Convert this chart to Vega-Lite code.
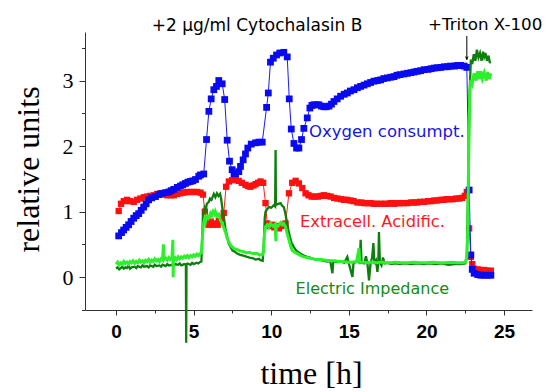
{
  "$schema": "https://vega.github.io/schema/vega-lite/v6.json",
  "autosize": "none",
  "width": 447,
  "height": 278,
  "padding": {"left": 85, "top": 32, "right": 22, "bottom": 82},
  "background": "white",
  "config": {"view": {"stroke": null}},
  "datasets": {
    "blue": [
      {"t":0.17,"v":0.63},{"t":0.35,"v":0.68},{"t":0.49,"v":0.72},{"t":0.65,"v":0.76},{"t":0.81,"v":0.8},{"t":0.97,"v":0.85},{"t":1.14,"v":0.9},{"t":1.3,"v":0.94},{"t":1.46,"v":0.97},{"t":1.62,"v":1.02},{"t":1.78,"v":1.07},{"t":1.94,"v":1.12},{"t":2.1,"v":1.18},{"t":2.3,"v":1.21},{"t":2.54,"v":1.23},{"t":2.75,"v":1.26},{"t":2.97,"v":1.28},{"t":3.2,"v":1.29},{"t":3.4,"v":1.3},{"t":3.55,"v":1.32},{"t":3.72,"v":1.34},{"t":3.95,"v":1.37},{"t":4.15,"v":1.39},{"t":4.3,"v":1.41},{"t":4.47,"v":1.43},{"t":4.63,"v":1.45},{"t":4.79,"v":1.46},{"t":4.95,"v":1.47},{"t":5.12,"v":1.49},{"t":5.33,"v":1.54},{"t":5.44,"v":1.56},{"t":5.65,"v":1.575},{"t":5.83,"v":2.1},{"t":5.98,"v":2.53},{"t":6.13,"v":2.72},{"t":6.3,"v":2.86},{"t":6.47,"v":2.91},{"t":6.62,"v":3.0},{"t":6.84,"v":2.95},{"t":7.0,"v":2.71},{"t":7.16,"v":2.09},{"t":7.31,"v":1.77},{"t":7.48,"v":1.64},{"t":7.6,"v":1.58},{"t":7.7,"v":1.575},{"t":7.91,"v":1.61},{"t":8.02,"v":1.69},{"t":8.19,"v":1.79},{"t":8.34,"v":1.88},{"t":8.49,"v":1.97},{"t":8.71,"v":2.03},{"t":8.99,"v":2.05},{"t":9.2,"v":2.06},{"t":9.42,"v":2.06},{"t":9.7,"v":2.59},{"t":9.81,"v":2.81},{"t":9.95,"v":3.28},{"t":10.13,"v":3.34},{"t":10.34,"v":3.39},{"t":10.55,"v":3.42},{"t":10.81,"v":3.43},{"t":11.03,"v":3.36},{"t":11.16,"v":2.72},{"t":11.29,"v":2.26},{"t":11.46,"v":2.04},{"t":11.63,"v":1.97},{"t":11.78,"v":1.97},{"t":11.95,"v":2.1},{"t":12.1,"v":2.27},{"t":12.32,"v":2.43},{"t":12.49,"v":2.58},{"t":12.62,"v":2.62},{"t":12.75,"v":2.63},{"t":12.9,"v":2.63},{"t":13.07,"v":2.63},{"t":13.23,"v":2.61},{"t":13.39,"v":2.6},{"t":13.55,"v":2.6},{"t":13.72,"v":2.61},{"t":13.88,"v":2.64},{"t":14.04,"v":2.68},{"t":14.25,"v":2.72},{"t":14.47,"v":2.76},{"t":14.7,"v":2.79},{"t":14.9,"v":2.81},{"t":15.1,"v":2.84},{"t":15.33,"v":2.86},{"t":15.55,"v":2.89},{"t":15.76,"v":2.91},{"t":15.98,"v":2.93},{"t":16.19,"v":2.95},{"t":16.4,"v":2.97},{"t":16.62,"v":2.99},{"t":16.85,"v":3.0},{"t":17.05,"v":3.01},{"t":17.25,"v":3.03},{"t":17.48,"v":3.04},{"t":17.7,"v":3.05},{"t":17.91,"v":3.06},{"t":18.1,"v":3.08},{"t":18.3,"v":3.09},{"t":18.55,"v":3.1},{"t":18.77,"v":3.11},{"t":19.0,"v":3.12},{"t":19.2,"v":3.13},{"t":19.4,"v":3.14},{"t":19.62,"v":3.15},{"t":19.85,"v":3.165},{"t":20.1,"v":3.17},{"t":20.3,"v":3.18},{"t":20.5,"v":3.19},{"t":20.7,"v":3.195},{"t":20.92,"v":3.2},{"t":21.15,"v":3.21},{"t":21.35,"v":3.21},{"t":21.55,"v":3.22},{"t":21.8,"v":3.22},{"t":22.0,"v":3.23},{"t":22.2,"v":3.23},{"t":22.43,"v":3.22},{"t":22.6,"v":3.2},{"t":22.75,"v":1.33},{"t":22.86,"v":0.34},{"t":22.95,"v":0.12},{"t":23.07,"v":0.06},{"t":23.3,"v":0.04},{"t":23.5,"v":0.03},{"t":23.72,"v":0.03},{"t":23.95,"v":0.03},{"t":24.15,"v":0.03}
    ],
    "red": [
      {"t":0.17,"v":1.01},{"t":0.32,"v":1.12},{"t":0.5,"v":1.16},{"t":0.71,"v":1.18},{"t":0.9,"v":1.16},{"t":1.14,"v":1.15},{"t":1.35,"v":1.18},{"t":1.57,"v":1.2},{"t":1.8,"v":1.22},{"t":2.0,"v":1.23},{"t":2.2,"v":1.24},{"t":2.43,"v":1.25},{"t":2.65,"v":1.27},{"t":2.86,"v":1.28},{"t":3.07,"v":1.26},{"t":3.29,"v":1.25},{"t":3.5,"v":1.25},{"t":3.72,"v":1.25},{"t":3.93,"v":1.27},{"t":4.15,"v":1.28},{"t":4.36,"v":1.29},{"t":4.58,"v":1.3},{"t":4.8,"v":1.3},{"t":5.0,"v":1.3},{"t":5.22,"v":1.3},{"t":5.44,"v":1.29},{"t":5.6,"v":1.26},{"t":5.72,"v":1.0},{"t":5.8,"v":0.84},{"t":5.95,"v":0.8},{"t":6.1,"v":0.85},{"t":6.25,"v":0.8},{"t":6.4,"v":0.82},{"t":6.55,"v":0.8},{"t":6.62,"v":0.86},{"t":6.8,"v":0.9},{"t":6.94,"v":0.98},{"t":7.09,"v":1.38},{"t":7.27,"v":1.46},{"t":7.48,"v":1.48},{"t":7.7,"v":1.49},{"t":7.9,"v":1.47},{"t":8.1,"v":1.44},{"t":8.34,"v":1.41},{"t":8.5,"v":1.39},{"t":8.66,"v":1.38},{"t":8.85,"v":1.4},{"t":8.99,"v":1.42},{"t":9.15,"v":1.44},{"t":9.31,"v":1.46},{"t":9.48,"v":1.44},{"t":9.63,"v":1.13},{"t":9.74,"v":0.82},{"t":9.9,"v":0.78},{"t":10.05,"v":0.8},{"t":10.2,"v":0.76},{"t":10.35,"v":0.78},{"t":10.49,"v":0.745},{"t":10.65,"v":0.78},{"t":10.8,"v":0.8},{"t":10.92,"v":0.82},{"t":11.14,"v":1.28},{"t":11.35,"v":1.44},{"t":11.57,"v":1.47},{"t":11.78,"v":1.43},{"t":12.0,"v":1.36},{"t":12.21,"v":1.28},{"t":12.4,"v":1.25},{"t":12.6,"v":1.23},{"t":12.8,"v":1.23},{"t":13.0,"v":1.23},{"t":13.2,"v":1.24},{"t":13.39,"v":1.25},{"t":13.6,"v":1.24},{"t":13.83,"v":1.23},{"t":14.05,"v":1.21},{"t":14.26,"v":1.2},{"t":14.5,"v":1.19},{"t":14.7,"v":1.18},{"t":14.9,"v":1.18},{"t":15.1,"v":1.17},{"t":15.3,"v":1.16},{"t":15.55,"v":1.14},{"t":15.8,"v":1.14},{"t":16.0,"v":1.13},{"t":16.2,"v":1.13},{"t":16.4,"v":1.13},{"t":16.6,"v":1.12},{"t":16.8,"v":1.12},{"t":17.05,"v":1.12},{"t":17.3,"v":1.12},{"t":17.5,"v":1.12},{"t":17.7,"v":1.13},{"t":17.91,"v":1.12},{"t":18.1,"v":1.13},{"t":18.3,"v":1.13},{"t":18.5,"v":1.13},{"t":18.77,"v":1.13},{"t":19.0,"v":1.14},{"t":19.2,"v":1.14},{"t":19.4,"v":1.14},{"t":19.6,"v":1.15},{"t":19.85,"v":1.15},{"t":20.1,"v":1.16},{"t":20.3,"v":1.16},{"t":20.5,"v":1.17},{"t":20.7,"v":1.17},{"t":20.92,"v":1.18},{"t":21.1,"v":1.18},{"t":21.3,"v":1.19},{"t":21.5,"v":1.19},{"t":21.7,"v":1.19},{"t":21.9,"v":1.2},{"t":22.1,"v":1.2},{"t":22.3,"v":1.21},{"t":22.47,"v":1.24},{"t":22.6,"v":1.3},{"t":22.75,"v":0.745},{"t":22.86,"v":0.31},{"t":22.95,"v":0.2},{"t":23.07,"v":0.13},{"t":23.3,"v":0.12},{"t":23.5,"v":0.11},{"t":23.72,"v":0.11},{"t":23.9,"v":0.1},{"t":24.15,"v":0.1}
    ],
    "dg": [
      {"t":0.0,"v":0.13},{"t":0.1,"v":0.15},{"t":0.2,"v":0.12},{"t":0.3,"v":0.14},{"t":0.4,"v":0.16},{"t":0.5,"v":0.13},{"t":0.6,"v":0.15},{"t":0.7,"v":0.14},{"t":0.8,"v":0.17},{"t":0.9,"v":0.13},{"t":1.0,"v":0.15},{"t":1.2,"v":0.16},{"t":1.3,"v":0.14},{"t":1.4,"v":0.17},{"t":1.6,"v":0.15},{"t":1.7,"v":0.18},{"t":1.8,"v":0.16},{"t":2.0,"v":0.17},{"t":2.1,"v":0.15},{"t":2.2,"v":0.18},{"t":2.4,"v":0.16},{"t":2.5,"v":0.19},{"t":2.6,"v":0.17},{"t":2.8,"v":0.18},{"t":2.9,"v":0.16},{"t":3.0,"v":0.19},{"t":3.2,"v":0.17},{"t":3.3,"v":0.2},{"t":3.4,"v":0.18},{"t":3.6,"v":0.19},{"t":3.7,"v":0.17},{"t":3.8,"v":0.2},{"t":4.0,"v":0.19},{"t":4.1,"v":0.21},{"t":4.2,"v":0.18},{"t":4.4,"v":0.2},{"t":4.5,"v":0.19},{"t":4.52,"v":-1.0},{"t":4.54,"v":0.2},{"t":4.6,"v":0.21},{"t":4.8,"v":0.19},{"t":4.9,"v":0.22},{"t":5.0,"v":0.2},{"t":5.2,"v":0.22},{"t":5.3,"v":0.21},{"t":5.4,"v":0.23},{"t":5.5,"v":0.24},{"t":5.55,"v":0.6},{"t":5.6,"v":0.95},{"t":5.7,"v":1.05},{"t":5.76,"v":1.0},{"t":5.85,"v":1.12},{"t":5.98,"v":1.15},{"t":6.05,"v":1.2},{"t":6.15,"v":1.18},{"t":6.3,"v":1.27},{"t":6.4,"v":1.22},{"t":6.5,"v":1.28},{"t":6.6,"v":1.24},{"t":6.7,"v":1.27},{"t":6.77,"v":1.2},{"t":6.85,"v":1.05},{"t":6.94,"v":0.92},{"t":7.05,"v":0.74},{"t":7.16,"v":0.62},{"t":7.25,"v":0.52},{"t":7.37,"v":0.46},{"t":7.5,"v":0.41},{"t":7.65,"v":0.39},{"t":7.8,"v":0.36},{"t":8.0,"v":0.34},{"t":8.2,"v":0.33},{"t":8.45,"v":0.31},{"t":8.6,"v":0.3},{"t":8.8,"v":0.29},{"t":9.0,"v":0.27},{"t":9.2,"v":0.28},{"t":9.31,"v":0.26},{"t":9.45,"v":0.25},{"t":9.52,"v":0.5},{"t":9.58,"v":0.9},{"t":9.63,"v":1.0},{"t":9.75,"v":1.04},{"t":9.85,"v":1.07},{"t":10.0,"v":1.06},{"t":10.17,"v":1.1},{"t":10.25,"v":1.08},{"t":10.28,"v":1.94},{"t":10.3,"v":1.1},{"t":10.45,"v":1.12},{"t":10.6,"v":1.13},{"t":10.7,"v":1.09},{"t":10.81,"v":1.07},{"t":10.9,"v":0.98},{"t":10.99,"v":0.87},{"t":11.1,"v":0.72},{"t":11.2,"v":0.62},{"t":11.3,"v":0.53},{"t":11.46,"v":0.46},{"t":11.6,"v":0.41},{"t":11.75,"v":0.38},{"t":11.89,"v":0.36},{"t":12.1,"v":0.33},{"t":12.3,"v":0.31},{"t":12.5,"v":0.3},{"t":12.7,"v":0.28},{"t":12.9,"v":0.27},{"t":13.2,"v":0.26},{"t":13.4,"v":0.25},{"t":13.6,"v":0.24},{"t":13.8,"v":0.25},{"t":13.94,"v":0.06},{"t":14.0,"v":0.24},{"t":14.3,"v":0.23},{"t":14.5,"v":0.24},{"t":14.7,"v":0.22},{"t":14.9,"v":0.31},{"t":15.0,"v":0.21},{"t":15.23,"v":0.005},{"t":15.3,"v":0.22},{"t":15.5,"v":0.23},{"t":15.6,"v":0.35},{"t":15.7,"v":0.2},{"t":15.76,"v":0.57},{"t":15.82,"v":0.22},{"t":16.0,"v":0.21},{"t":16.1,"v":0.32},{"t":16.2,"v":0.2},{"t":16.3,"v":-0.05},{"t":16.4,"v":0.22},{"t":16.5,"v":0.3},{"t":16.58,"v":0.52},{"t":16.65,"v":0.2},{"t":16.75,"v":0.25},{"t":16.84,"v":0.08},{"t":16.9,"v":0.25},{"t":16.94,"v":0.69},{"t":17.0,"v":0.22},{"t":17.1,"v":0.18},{"t":17.2,"v":0.3},{"t":17.3,"v":0.21},{"t":17.5,"v":0.22},{"t":17.7,"v":0.2},{"t":18.0,"v":0.21},{"t":18.3,"v":0.2},{"t":18.6,"v":0.21},{"t":19.0,"v":0.2},{"t":19.4,"v":0.21},{"t":19.8,"v":0.2},{"t":20.2,"v":0.21},{"t":20.6,"v":0.2},{"t":21.0,"v":0.21},{"t":21.4,"v":0.19},{"t":21.8,"v":0.2},{"t":22.2,"v":0.2},{"t":22.5,"v":0.21},{"t":22.6,"v":0.3},{"t":22.7,"v":1.6},{"t":22.78,"v":2.8},{"t":22.86,"v":3.32},{"t":22.95,"v":3.25},{"t":23.05,"v":3.4},{"t":23.15,"v":3.3},{"t":23.25,"v":3.47},{"t":23.35,"v":3.35},{"t":23.45,"v":3.42},{"t":23.55,"v":3.3},{"t":23.65,"v":3.44},{"t":23.72,"v":3.36},{"t":23.8,"v":3.42},{"t":23.9,"v":3.3},{"t":24.0,"v":3.38},{"t":24.08,"v":3.28},{"t":24.15,"v":3.27}
    ],
    "lg": [
      {"t":0.0,"v":0.2},{"t":0.1,"v":0.23},{"t":0.2,"v":0.19},{"t":0.3,"v":0.22},{"t":0.4,"v":0.2},{"t":0.5,"v":0.24},{"t":0.6,"v":0.21},{"t":0.7,"v":0.23},{"t":0.8,"v":0.2},{"t":0.9,"v":0.24},{"t":1.0,"v":0.22},{"t":1.1,"v":0.25},{"t":1.2,"v":0.21},{"t":1.3,"v":0.24},{"t":1.4,"v":0.22},{"t":1.5,"v":0.26},{"t":1.6,"v":0.23},{"t":1.7,"v":0.25},{"t":1.8,"v":0.22},{"t":1.9,"v":0.26},{"t":2.0,"v":0.24},{"t":2.1,"v":0.27},{"t":2.2,"v":0.23},{"t":2.3,"v":0.26},{"t":2.4,"v":0.24},{"t":2.5,"v":0.28},{"t":2.6,"v":0.25},{"t":2.7,"v":0.27},{"t":2.8,"v":0.24},{"t":2.9,"v":0.28},{"t":3.0,"v":0.26},{"t":3.05,"v":0.5},{"t":3.09,"v":0.27},{"t":3.2,"v":0.29},{"t":3.3,"v":0.26},{"t":3.4,"v":0.3},{"t":3.5,"v":0.27},{"t":3.6,"v":0.29},{"t":3.66,"v":0.57},{"t":3.68,"v":0.0},{"t":3.7,"v":0.28},{"t":3.8,"v":0.3},{"t":3.9,"v":0.27},{"t":4.0,"v":0.31},{"t":4.1,"v":0.28},{"t":4.2,"v":0.31},{"t":4.3,"v":0.29},{"t":4.4,"v":0.32},{"t":4.5,"v":0.3},{"t":4.6,"v":0.33},{"t":4.7,"v":0.3},{"t":4.8,"v":0.33},{"t":4.9,"v":0.31},{"t":5.0,"v":0.34},{"t":5.1,"v":0.32},{"t":5.2,"v":0.35},{"t":5.3,"v":0.33},{"t":5.4,"v":0.36},{"t":5.5,"v":0.37},{"t":5.55,"v":0.55},{"t":5.62,"v":0.8},{"t":5.7,"v":0.88},{"t":5.76,"v":0.84},{"t":5.85,"v":0.93},{"t":5.95,"v":0.9},{"t":6.08,"v":0.97},{"t":6.15,"v":0.93},{"t":6.25,"v":1.0},{"t":6.35,"v":0.96},{"t":6.4,"v":1.0},{"t":6.5,"v":0.94},{"t":6.62,"v":0.96},{"t":6.7,"v":0.88},{"t":6.84,"v":0.82},{"t":6.95,"v":0.75},{"t":7.05,"v":0.69},{"t":7.15,"v":0.6},{"t":7.27,"v":0.54},{"t":7.4,"v":0.48},{"t":7.59,"v":0.44},{"t":7.8,"v":0.42},{"t":8.0,"v":0.4},{"t":8.23,"v":0.39},{"t":8.4,"v":0.37},{"t":8.6,"v":0.38},{"t":8.8,"v":0.36},{"t":9.09,"v":0.36},{"t":9.25,"v":0.34},{"t":9.42,"v":0.34},{"t":9.5,"v":0.4},{"t":9.56,"v":0.65},{"t":9.63,"v":0.77},{"t":9.75,"v":0.8},{"t":9.85,"v":0.76},{"t":9.95,"v":0.82},{"t":10.1,"v":0.78},{"t":10.25,"v":0.81},{"t":10.3,"v":0.55},{"t":10.32,"v":0.8},{"t":10.45,"v":0.78},{"t":10.6,"v":0.83},{"t":10.71,"v":0.8},{"t":10.8,"v":0.82},{"t":10.92,"v":0.77},{"t":11.03,"v":0.66},{"t":11.14,"v":0.57},{"t":11.25,"v":0.47},{"t":11.35,"v":0.41},{"t":11.5,"v":0.38},{"t":11.68,"v":0.36},{"t":11.9,"v":0.33},{"t":12.1,"v":0.31},{"t":12.3,"v":0.3},{"t":12.5,"v":0.29},{"t":12.7,"v":0.28},{"t":12.9,"v":0.27},{"t":13.2,"v":0.27},{"t":13.5,"v":0.26},{"t":13.8,"v":0.25},{"t":14.1,"v":0.25},{"t":14.3,"v":0.24},{"t":14.6,"v":0.24},{"t":14.9,"v":0.23},{"t":15.2,"v":0.23},{"t":15.5,"v":0.24},{"t":15.65,"v":0.44},{"t":15.7,"v":0.23},{"t":15.9,"v":0.23},{"t":16.2,"v":0.22},{"t":16.5,"v":0.23},{"t":16.8,"v":0.22},{"t":17.1,"v":0.23},{"t":17.4,"v":0.22},{"t":17.7,"v":0.22},{"t":18.0,"v":0.23},{"t":18.4,"v":0.22},{"t":18.8,"v":0.22},{"t":19.2,"v":0.23},{"t":19.6,"v":0.22},{"t":20.0,"v":0.22},{"t":20.4,"v":0.23},{"t":20.8,"v":0.22},{"t":21.2,"v":0.22},{"t":21.6,"v":0.23},{"t":22.0,"v":0.22},{"t":22.3,"v":0.22},{"t":22.5,"v":0.23},{"t":22.6,"v":0.3},{"t":22.65,"v":0.6},{"t":22.7,"v":1.5},{"t":22.75,"v":2.3},{"t":22.8,"v":2.85},{"t":22.86,"v":3.01},{"t":22.95,"v":2.95},{"t":23.07,"v":3.11},{"t":23.2,"v":3.0},{"t":23.3,"v":3.14},{"t":23.4,"v":3.02},{"t":23.5,"v":3.14},{"t":23.6,"v":3.03},{"t":23.72,"v":3.12},{"t":23.85,"v":3.0},{"t":23.95,"v":3.13},{"t":24.05,"v":3.02},{"t":24.15,"v":3.11}
    ],
    "boxes": [{"t0":5.5,"t1":6.7},{"t0":9.5,"t1":10.86}],
    "vgrid": [{"t":0},{"t":5},{"t":10},{"t":15},{"t":20},{"t":25}],
    "hgrid": [{"v":0},{"v":1},{"v":2},{"v":3}]
  },
  "encoding": {
    "x": {
      "field": "t", "type": "quantitative",
      "scale": {"domain": [-2, 26.8], "nice": false, "zero": false},
      "axis": {
        "title": "time [h]",
        "values": [0, 2.5, 5, 7.5, 10, 12.5, 15, 17.5, 20, 22.5, 25],
        "labelExpr": "datum.value % 5 === 0 ? datum.label : ''",
        "labelFont": "Liberation Sans", "labelFontSize": 19, "labelFontWeight": "bold", "labelColor": "#000",
        "labelPadding": 7,
        "tickSize": {"condition": {"test": "datum.value % 5 === 0", "value": 5}, "value": 3},
        "tickColor": "#333", "domainColor": "#333",
        "grid": false,
        "titleFont": "Liberation Serif", "titleFontSize": 32, "titleFontWeight": "normal", "titleColor": "#000",
        "titleX": 226, "titleY": 73, "titleBaseline": "alphabetic", "titleAlign": "center"
      }
    },
    "y": {
      "field": "v", "type": "quantitative",
      "scale": {"domain": [-0.5, 3.74], "nice": false, "zero": false},
      "axis": {
        "title": "relative units",
        "values": [-0.5, 0, 0.5, 1, 1.5, 2, 2.5, 3, 3.5],
        "labelExpr": "datum.value % 1 === 0 ? format(datum.value, 'd') : ''",
        "labelFont": "Liberation Serif", "labelFontSize": 22, "labelColor": "#000",
        "labelPadding": 6,
        "tickSize": {"condition": {"test": "datum.value % 1 === 0", "value": 6}, "value": 3.5},
        "tickColor": "#333", "domainColor": "#333",
        "grid": false,
        "titleFont": "Liberation Serif", "titleFontSize": 32, "titleFontWeight": "normal", "titleColor": "#000",
        "titleX": -47, "titleY": 137, "titleBaseline": "alphabetic", "titleAlign": "center", "titleAngle": -90
      }
    }
  },
  "layer": [
    {
      "data": {"name": "vgrid"},
      "mark": {"type": "rule", "color": "#c4c4c4", "strokeWidth": 1, "strokeDash": [2, 2]},
      "encoding": {"y": {"datum": -0.5}, "y2": {"datum": 3.74}}
    },
    {
      "data": {"name": "hgrid"},
      "mark": {"type": "rule", "color": "#c4c4c4", "strokeWidth": 1, "strokeDash": [2, 2]},
      "encoding": {"x": {"datum": -2}, "x2": {"datum": 26.8}}
    },
    {
      "data": {"name": "red"},
      "mark": {"type": "line", "color": "#ff2020", "strokeWidth": 1,
               "point": {"shape": "square", "size": 40, "filled": true, "color": "#ff1010", "opacity": 1}}
    },
    {
      "data": {"name": "blue"},
      "mark": {"type": "line", "color": "#1a1aff", "strokeWidth": 1,
               "point": {"shape": "square", "size": 46, "filled": true, "color": "#0a0af0", "opacity": 1}}
    },
    {
      "data": {"name": "dg"},
      "mark": {"type": "line", "color": "#0d7f0d", "strokeWidth": 2.3}
    },
    {
      "data": {"name": "lg"},
      "mark": {"type": "line", "color": "#2cf02c", "strokeWidth": 3}
    },
    {
      "data": {"name": "boxes"},
      "mark": {"type": "rect", "fill": "#dedede", "fillOpacity": 0.55, "stroke": "#bcbcbc", "strokeWidth": 1.5},
      "encoding": {
        "x": {"field": "t0", "type": "quantitative"},
        "x2": {"field": "t1"},
        "y": {"datum": 3.74},
        "y2": {"datum": -0.5}
      }
    },
    {
      "data": {"values": [{"t": 2.3, "v": 3.755, "label": "+2 µg/ml Cytochalasin B"}]},
      "mark": {"type": "text", "align": "left", "baseline": "alphabetic", "font": "DejaVu Sans", "fontSize": 17, "color": "#000"},
      "encoding": {"text": {"field": "label"}}
    },
    {
      "data": {"values": [{"t": 20.1, "v": 3.77, "label": "+Triton X-100"}]},
      "mark": {"type": "text", "align": "left", "baseline": "alphabetic", "font": "DejaVu Sans", "fontSize": 16.7, "color": "#000"},
      "encoding": {"text": {"field": "label"}}
    },
    {
      "data": {"values": [{"t": 22.6, "v": 3.68, "v2": 3.32}]},
      "mark": {"type": "rule", "color": "#000", "strokeWidth": 1},
      "encoding": {"y2": {"field": "v2"}}
    },
    {
      "data": {"values": [{"t": 22.6, "v": 3.32}]},
      "mark": {"type": "point", "shape": "M-0.8,-2L0,0L0.8,-2", "size": 9, "filled": false, "stroke": "#000", "strokeWidth": 1, "opacity": 1}
    },
    {
      "data": {"values": [{"t": 12.43, "v": 2.145, "label": "Oxygen consumpt."}]},
      "mark": {"type": "text", "align": "left", "baseline": "alphabetic", "font": "DejaVu Sans", "fontSize": 16.5, "color": "#1414e6"},
      "encoding": {"text": {"field": "label"}}
    },
    {
      "data": {"values": [{"t": 11.85, "v": 0.76, "label": "Extracell. Acidific."}]},
      "mark": {"type": "text", "align": "left", "baseline": "alphabetic", "font": "DejaVu Sans", "fontSize": 16.3, "color": "#ff1a1a"},
      "encoding": {"text": {"field": "label"}}
    },
    {
      "data": {"values": [{"t": 11.57, "v": -0.25, "label": "Electric Impedance"}]},
      "mark": {"type": "text", "align": "left", "baseline": "alphabetic", "font": "DejaVu Sans", "fontSize": 16, "color": "#158a15"},
      "encoding": {"text": {"field": "label"}}
    }
  ]
}
